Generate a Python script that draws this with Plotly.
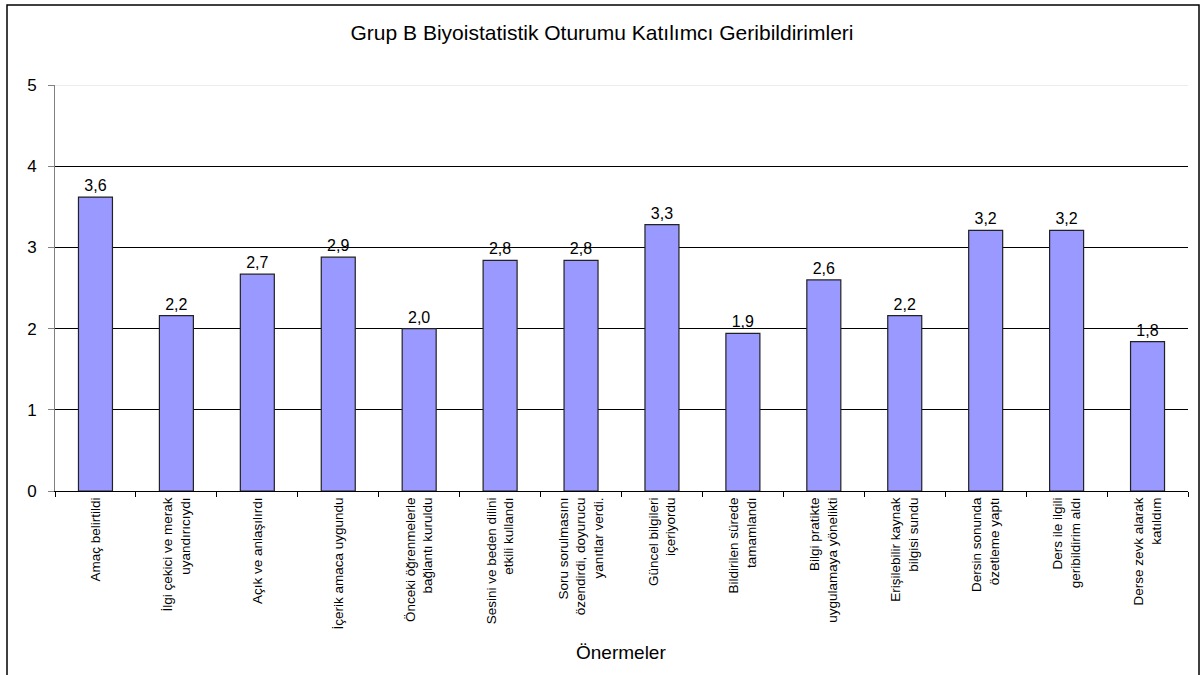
import plotly.graph_objects as go

categories = [
    "Amaç belirtildi",
    "İlgi çekici ve merak<br>uyandırıcıydı",
    "Açık ve anlaşılırdı",
    "İçerik amaca uygundu",
    "Önceki öğrenmelerle<br>bağlantı kuruldu",
    "Sesini ve beden dilini<br>etkili kullandı",
    "Soru sorulmasını<br>özendirdi, doyurucu<br>yanıtlar verdi.",
    "Güncel bilgileri<br>içeriyordu",
    "Bildirilen sürede<br>tamamlandı",
    "Bilgi pratikte<br>uygulamaya yönelikti",
    "Erişilebilir kaynak<br>bilgisi sundu",
    "Dersin sonunda<br>özetleme yaptı",
    "Ders ile ilgili<br>geribildirim aldı",
    "Derse zevk alarak<br>katıldım",
]
values = [3.62, 2.16, 2.67, 2.88, 2.0, 2.84, 2.84, 3.28, 1.94, 2.6, 2.16, 3.21, 3.21, 1.84]
y_ticks = [0, 1, 2, 3, 4, 5]

title_text = "Grup B Biyoistatistik Oturumu Katılımcı Geribildirimleri"
x_title = "Önermeler"

labels = [f"{v:.1f}".replace(".", ",") for v in values]

FONT = "Liberation Sans, Arial, sans-serif"

fig = go.Figure(
    go.Bar(
        x=categories,
        y=values,
        text=labels,
        textposition="outside",
        textfont=dict(family=FONT, size=16, color="black"),
        cliponaxis=False,
        marker=dict(color="#9999FF", line=dict(color="#222222", width=1.2)),
        hoverinfo="x+y",
    )
)

W, H = 1204, 675
L, R, T, B = 55, 16, 85, 184
pw, ph = W - L - R, H - T - B

def px_x(px):
    return (px - L) / pw

def px_y(py):
    return (H - B - py) / ph

fig.update_layout(
    width=W,
    height=H,
    margin=dict(l=L, r=R, t=T, b=B, autoexpand=False),
    paper_bgcolor="white",
    plot_bgcolor="white",
    showlegend=False,
    bargap=0.58,
    font=dict(family=FONT, color="black"),
    title=dict(
        text=title_text,
        x=0.5,
        xref="container",
        xanchor="center",
        y=1 - 33 / H,
        yanchor="middle",
        font=dict(family=FONT, size=21, color="black"),
    ),
    xaxis=dict(
        type="category",
        tickangle=-90,
        tickfont=dict(family=FONT, size=13.5, color="black"),
        showline=True,
        linecolor="black",
        linewidth=1,
        ticks="outside",
        tickson="boundaries",
        ticklen=5,
        tickcolor="black",
        showgrid=False,
        automargin=False,
    ),
    yaxis=dict(
        range=[0, 5],
        tickvals=y_ticks,
        ticktext=[str(t) for t in y_ticks],
        tickfont=dict(family=FONT, size=17, color="black"),
        ticklabelstandoff=8,
        showline=True,
        linecolor="#808080",
        linewidth=1,
        ticks="outside",
        ticklen=6,
        tickcolor="#808080",
        showgrid=True,
        gridcolor="black",
        gridwidth=1,
        zeroline=False,
        automargin=False,
    ),
    shapes=[
        dict(type="line", xref="paper", yref="y", x0=0, x1=1, y0=y_ticks[-1], y1=y_ticks[-1],
             line=dict(color="#d9d9d9", width=1), layer="above"),
        dict(type="rect", xref="paper", yref="paper",
             x0=px_x(7), x1=px_x(1199), y0=px_y(700), y1=px_y(5),
             line=dict(color="black", width=1.5), fillcolor="rgba(0,0,0,0)", layer="below"),
    ],
    annotations=[
        dict(text=x_title, xref="paper", yref="paper", x=px_x(621), y=px_y(652),
             xanchor="center", yanchor="middle", showarrow=False,
             font=dict(family=FONT, size=19, color="black")),
    ],
)

fig.write_html("out.html", config={"displayModeBar": False},
               post_script="document.body.style.margin='0';")
